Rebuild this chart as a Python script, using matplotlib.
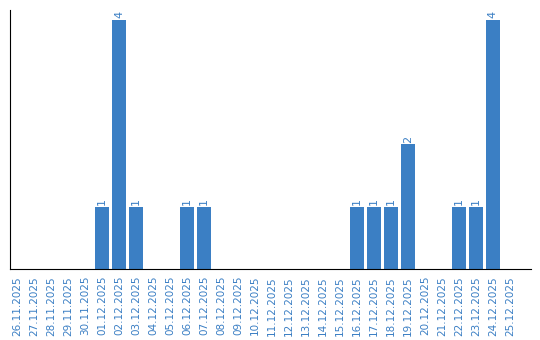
import matplotlib
matplotlib.use('Agg')
import matplotlib.pyplot as plt

dates = ['26.11.2025', '27.11.2025', '28.11.2025', '29.11.2025', '30.11.2025',
         '01.12.2025', '02.12.2025', '03.12.2025', '04.12.2025', '05.12.2025',
         '06.12.2025', '07.12.2025', '08.12.2025', '09.12.2025', '10.12.2025',
         '11.12.2025', '12.12.2025', '13.12.2025', '14.12.2025', '15.12.2025',
         '16.12.2025', '17.12.2025', '18.12.2025', '19.12.2025', '20.12.2025',
         '21.12.2025', '22.12.2025', '23.12.2025', '24.12.2025', '25.12.2025']
counts = [0, 0, 0, 0, 0, 1, 4, 1, 0, 0, 1, 1, 0, 0, 0,
          0, 0, 0, 0, 0, 1, 1, 1, 2, 0, 0, 1, 1, 4, 0]

blue = '#3b7fc4'

fig = plt.figure(figsize=(5.4, 3.4), dpi=100)
ax = fig.add_axes([10 / 540, 71 / 340, 521 / 540, 259 / 340])

x = range(len(dates))
ax.bar(x, counts, width=0.82, color=blue)
for i, c in enumerate(counts):
    if c > 0:
        ax.text(i, c + 0.03, str(c), rotation=90, ha='center', va='bottom',
                color=blue, fontsize=8)

ax.set_xlim(-0.41, 30.24)
ax.set_ylim(0, 4.16)
ax.set_xticks(list(x))
ax.set_xticklabels(dates, rotation=90, color=blue, fontsize=7.5)
ax.tick_params(axis='x', length=0, pad=5)
ax.set_yticks([])
ax.spines['top'].set_visible(False)
ax.spines['right'].set_visible(False)

fig.savefig('out.png', dpi=100)
